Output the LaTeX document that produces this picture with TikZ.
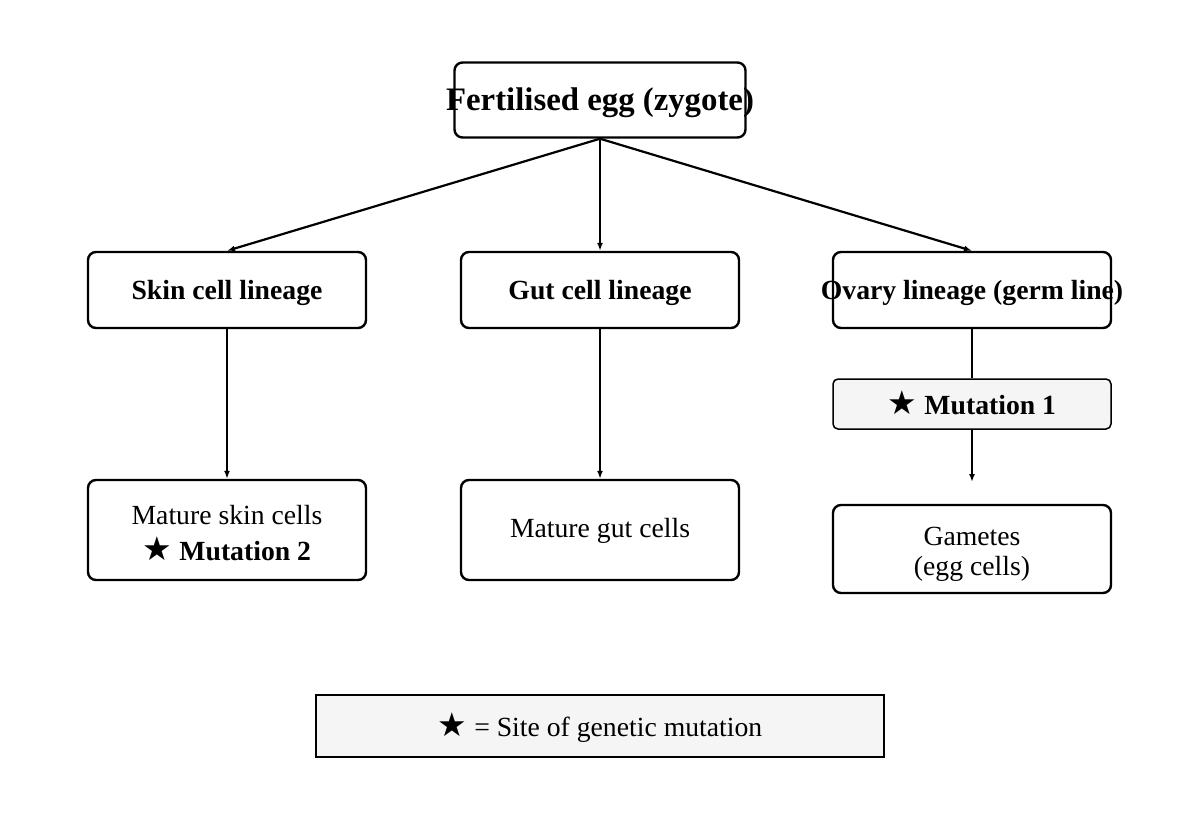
\documentclass[tikz,border=0pt]{standalone}
\usepackage{fontspec}
\setmainfont{Liberation Serif}
\newfontfamily\symfont{DejaVu Sans}
\usetikzlibrary{arrows.meta}
\newcommand{\mystar}{{\symfont\fontsize{33}{36}\selectfont\char"2605}}
\begin{document}
\begin{tikzpicture}[x=1pt,y=-1pt,
  box/.style={draw, line width=2.4pt, rounded corners=8pt, minimum width=278pt,
    inner sep=0pt},
  lab/.style={inner sep=0pt, align=center, font=\fontsize{27.7}{30}\selectfont},
  mutbox/.style={draw, line width=1.5pt, rounded corners=5pt, fill=black!4,
    minimum width=278pt, minimum height=50pt, inner sep=0pt},
  legbox/.style={draw, line width=1.3pt, fill=black!4, minimum width=568pt,
    minimum height=62pt, inner sep=0pt},
  conn/.style={line width=2.2pt},
  arr/.style={conn, -{Latex[length=8pt,width=6pt]}}
]
\useasboundingbox (0,0) rectangle (1200,822);

\node[box, minimum width=291pt, minimum height=75pt,
  label={[lab, yshift=-3pt, font=\fontsize{32.8}{36}\selectfont\bfseries]center:Fertilised egg (zygote)}] (zyg) at (600,100) {};

\node[box, minimum height=76pt,
  label={[lab, yshift=-3pt, font=\fontsize{27.7}{30}\selectfont\bfseries]center:Skin cell lineage}] (skin) at (227,290) {};
\node[box, minimum height=76pt,
  label={[lab, yshift=-3pt, font=\fontsize{27.7}{30}\selectfont\bfseries]center:Gut cell lineage}] (gut) at (600,290) {};
\node[box, minimum height=76pt,
  label={[lab, yshift=-3pt, font=\fontsize{27.7}{30}\selectfont\bfseries]center:Ovary lineage (germ line)}] (ovary) at (972,290) {};

\node[mutbox,
  label={[lab, yshift=1pt, font=\fontsize{27.7}{30}\selectfont\bfseries]center:\mystar\ Mutation 1}] (mut1) at (972,404) {};

\node[box, minimum height=100pt,
  label={[lab, yshift=-3pt]center:{Mature skin cells\\[6pt]\textbf{\mystar\ Mutation 2}}}] (mskin) at (227,530) {};
\node[box, minimum height=100pt,
  label={[lab, yshift=-1pt]center:Mature gut cells}] (mgut) at (600,530) {};
\node[box, minimum height=88pt,
  label={[lab, yshift=-5pt]center:{Gametes\\(egg cells)}}] (gam) at (972,549) {};

\node[legbox,
  label={[lab, yshift=-1.5pt]center:\mystar\ = Site of genetic mutation}] (leg) at (600,726) {};

\coordinate (gamtip) at (972,482);

\draw[arr] (zyg.south) -- (skin.north);
\draw[arr] (zyg.south) -- (gut.north);
\draw[arr] (zyg.south) -- (ovary.north);
\draw[arr] (skin.south) -- (mskin.north);
\draw[arr] (gut.south) -- (mgut.north);
\draw[conn] (ovary.south) -- (mut1.north);
\draw[arr] (mut1.south) -- (gamtip);
\end{tikzpicture}
\end{document}
